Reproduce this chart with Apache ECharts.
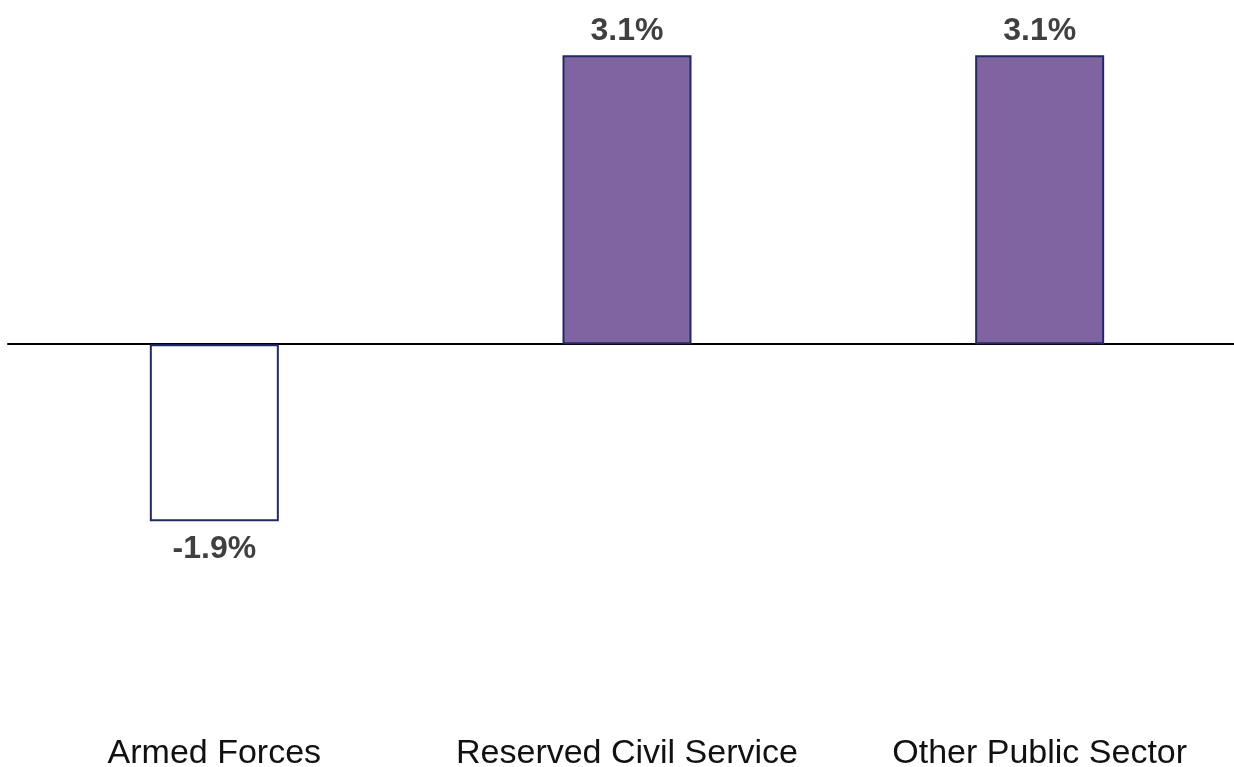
<!DOCTYPE html>
<html>
<head>
<meta charset="utf-8">
<title>Change by sector</title>
<script src="https://cdn.jsdelivr.net/npm/echarts@6/dist/echarts.min.js"></script>
<style>
  html, body { margin: 0; padding: 0; background: #ffffff; }
  #chart { width: 1234px; height: 767px; }
</style>
</head>
<body>
<div id="chart"></div>
<script>
// Sector categories and their percentage change
const categories = ['Armed Forces', 'Reserved Civil Service', 'Other Public Sector'];
const changeValues = [-1.9, 3.1, 3.1];

const FONT = '"Liberation Sans", Arial, Helvetica, sans-serif';
const chart = echarts.init(document.getElementById('chart'), null, { renderer: 'canvas' });

chart.setOption({
  animation: false,
  backgroundColor: '#ffffff',
  grid: {
    left: 8, right: -12, top: 18, bottom: 50,
    containLabel: false,
    outerBoundsMode: 'none'
  },
  xAxis: [
    {
      // baseline drawn through zero
      type: 'category',
      data: categories,
      axisLine: { onZero: true, lineStyle: { color: '#000000', width: 2 } },
      axisTick: { show: false },
      axisLabel: { show: false },
      splitLine: { show: false }
    },
    {
      // category names along the bottom
      type: 'category',
      data: categories,
      position: 'bottom',
      axisLine: { show: false, onZero: false },
      axisTick: { show: false },
      axisLabel: {
        show: true,
        interval: 0,
        hideOverlap: false,
        margin: 20,
        fontFamily: FONT,
        fontSize: 34,
        color: '#111111'
      },
      splitLine: { show: false }
    }
  ],
  yAxis: {
    type: 'value',
    min: -4,
    max: 3.5,
    show: false,
    splitLine: { show: false }
  },
  series: [
    {
      type: 'bar',
      xAxisIndex: 0,
      data: changeValues.map(function (v) {
        // negative bars carry their label below the bar end
        return v < 0
          ? { value: v, label: { position: 'bottom', distance: 12 } }
          : v;
      }),
      barWidth: 129,
      itemStyle: {
        color: function (p) { return p.value < 0 ? '#ffffff' : '#8064A2'; },
        borderColor: '#1F2A66',
        borderWidth: 2
      },
      label: {
        show: true,
        position: 'top',
        distance: 8,
        fontFamily: FONT,
        fontSize: 32,
        fontWeight: 'bold',
        color: '#404040',
        formatter: function (p) { return p.value.toFixed(1) + '%'; }
      }
    }
  ]
});
</script>
</body>
</html>
